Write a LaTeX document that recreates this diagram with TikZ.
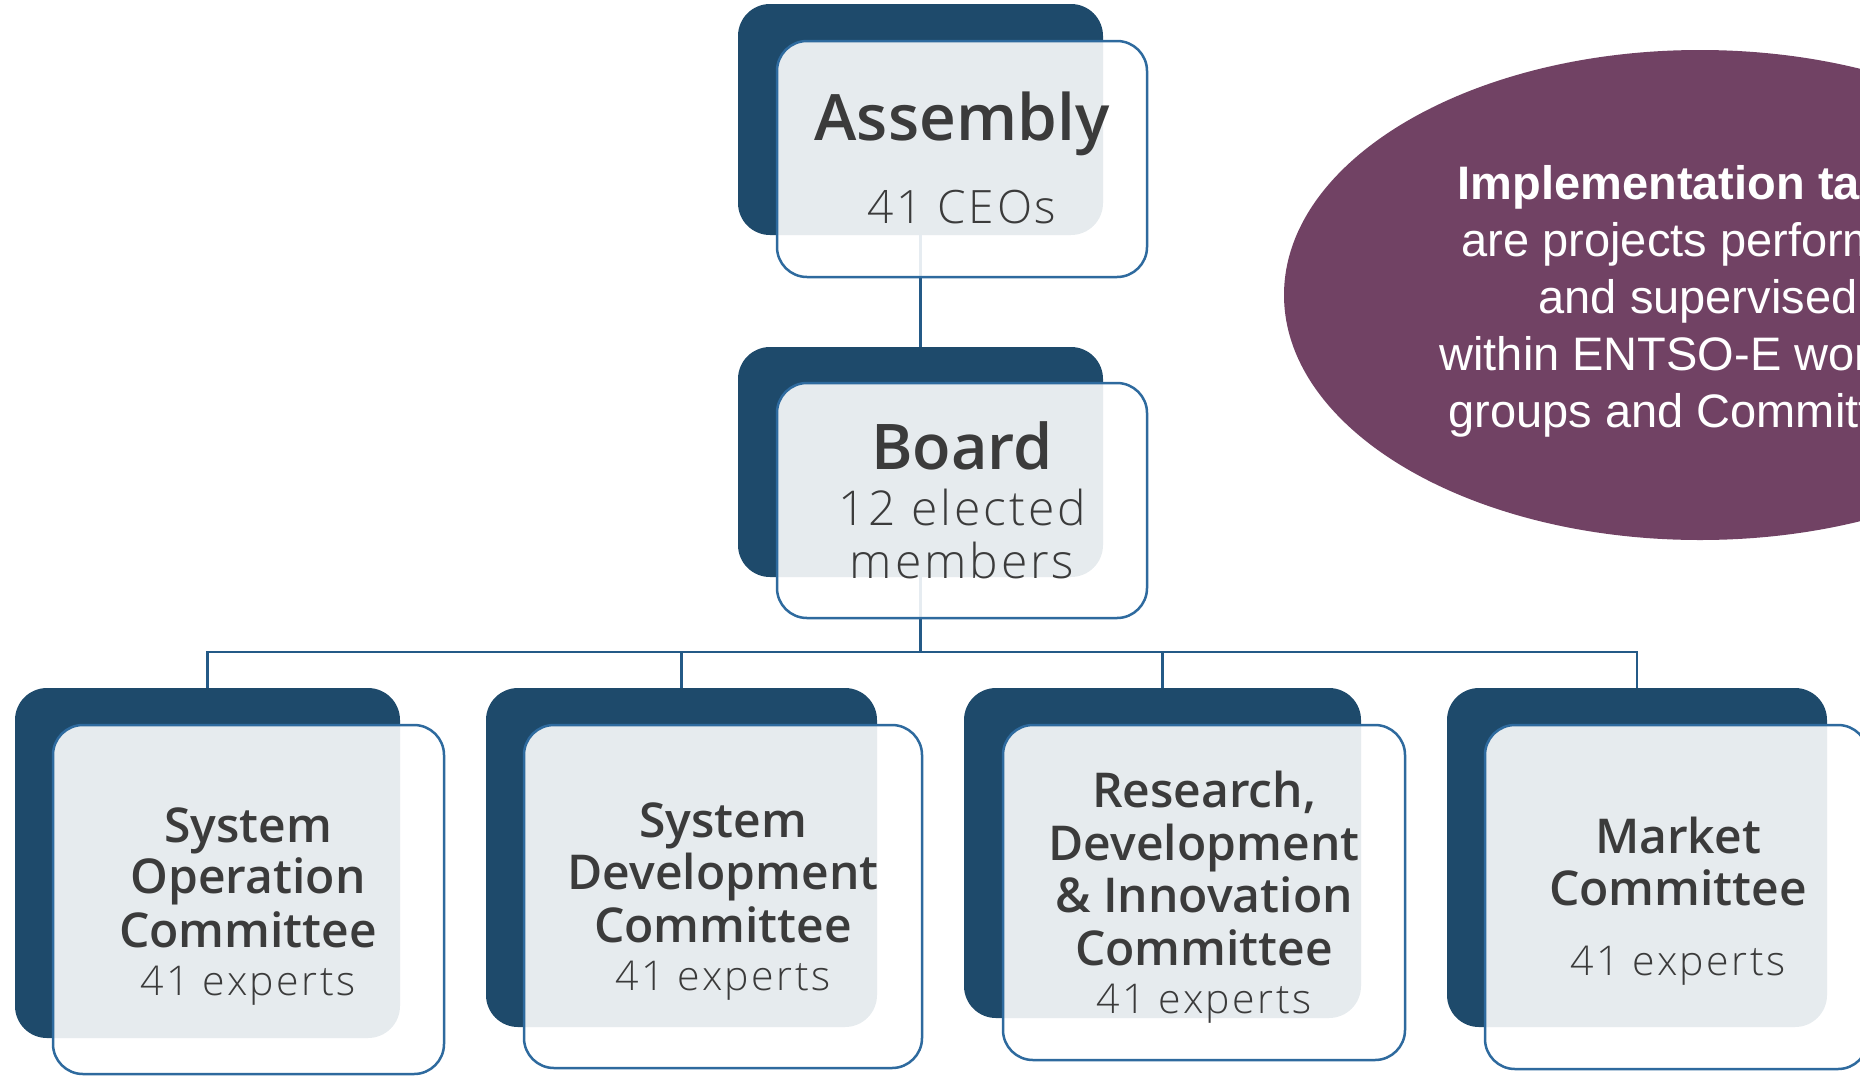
\documentclass[tikz,border=0pt]{standalone}
\usepackage{fontspec}
\usetikzlibrary{shapes.geometric}
\setmainfont{Open Sans}
\IfFontExistsTF{Open Sans Semibold}{\newfontfamily\ttlfont{Open Sans Semibold}}{\newcommand\ttlfont{\bfseries}}
\IfFontExistsTF{Open Sans Light}{\newfontfamily\subfont{Open Sans Light}[LetterSpace=6]}{\newfontfamily\subfont{Open Sans}[LetterSpace=6]}
\newfontfamily\arialf{Liberation Sans}
\definecolor{dkblue}{HTML}{1E4A6B}
\definecolor{frameblue}{HTML}{2E6A9E}
\definecolor{connblue}{HTML}{245A87}
\definecolor{txtgrey}{HTML}{3B3B3B}
\definecolor{plum}{HTML}{714264}
\pgfdeclarelayer{bg}
\pgfsetlayers{bg,main}
\tikzset{
  darkbox/.style={rectangle, rounded corners=32pt, fill=dkblue, inner sep=0pt, outer sep=0pt},
  framebox/.style={rectangle, rounded corners=30pt, draw=frameblue, line width=2.5pt, fill=white, fill opacity=0.89, inner sep=0pt, outer sep=0pt},
  conn/.style={draw=connblue, line width=2.5pt},
  bigttl/.style={anchor=base, inner sep=0pt, text=txtgrey, font={\ttlfont\fontsize{64}{70}\selectfont}},
  ttl/.style={anchor=base, inner sep=0pt, text=txtgrey, font={\ttlfont\fontsize{48}{52}\selectfont}},
  bigsub/.style={anchor=base, inner sep=0pt, text=txtgrey, font={\subfont\fontsize{48}{52}\selectfont}},
  sub/.style={anchor=base, inner sep=0pt, text=txtgrey, font={\subfont\fontsize{41}{44}\selectfont}},
  impl/.style={anchor=base, inner sep=0pt, text=white, font={\arialf\fontsize{47}{54}\selectfont}},
}
\begin{document}
\begin{tikzpicture}[x=1pt, y=-1pt]
\useasboundingbox (0,0) rectangle (1860,1077);
\clip (0,0) rectangle (1860,1077);

% Assembly
\node[darkbox, minimum width=365pt, minimum height=231pt] (asmD) at (920.5,119.5) {};
\node[framebox, minimum width=370pt, minimum height=236pt] (asmF) at (962,159) {};
\node[bigttl] (asmT) at (962,140) {Assembly};
\node[sub, font={\subfont\fontsize{46}{50}\selectfont}] (asmS) at (962,223) {41 CEOs};

% Board
\node[darkbox, minimum width=365pt, minimum height=230pt] (brdD) at (920.5,462) {};
\node[framebox, minimum width=370pt, minimum height=235pt] (brdF) at (962,500.5) {};
\node[bigttl, font={\ttlfont\fontsize{63}{70}\selectfont}] (brdT) at (962,469) {Board};
\node[bigsub] (brdS1) at (962,525) {12 elected};
\node[bigsub] (brdS2) at (962,578) {members};

% Committee 1
\node[darkbox, minimum width=385pt, minimum height=350pt] (c1D) at (207.5,863) {};
\node[framebox, minimum width=391pt, minimum height=349pt] (c1F) at (248.5,899.5) {};
\node[ttl] (c1T1) at (248,842) {System};
\node[ttl] (c1T2) at (248,893) {Operation};
\node[ttl] (c1T3) at (248,947) {Committee};
\node[sub] (c1S) at (248,995) {41 experts};

% Committee 2
\node[darkbox, minimum width=391pt, minimum height=339pt] (c2D) at (681.5,857.5) {};
\node[framebox, minimum width=398pt, minimum height=343pt] (c2F) at (723,896.5) {};
\node[ttl] (c2T1) at (723,837) {System};
\node[ttl] (c2T2) at (723,889) {Development};
\node[ttl] (c2T3) at (723,942) {Committee};
\node[sub] (c2S) at (723,990) {41 experts};

% Committee 3
\node[darkbox, minimum width=397pt, minimum height=330pt] (c3D) at (1162.5,853) {};
\node[framebox, minimum width=402pt, minimum height=335pt] (c3F) at (1204,892.5) {};
\node[ttl] (c3T1) at (1204,807) {Research,};
\node[ttl] (c3T2) at (1204,860) {Development};
\node[ttl] (c3T3) at (1204,912) {\& Innovation};
\node[ttl] (c3T4) at (1204,965) {Committee};
\node[sub] (c3S) at (1204,1013) {41 experts};

% Committee 4
\node[darkbox, minimum width=380pt, minimum height=339pt] (c4D) at (1637,857.5) {};
\node[framebox, minimum width=383pt, minimum height=344pt] (c4F) at (1676.5,897) {};
\node[ttl] (c4T1) at (1678,853) {Market};
\node[ttl] (c4T2) at (1678,905) {Committee};
\node[sub] (c4S) at (1678,975) {41 experts};

% connectors (behind)
\coordinate (bar) at (920.5,652);
\begin{pgfonlayer}{bg}
\draw[conn] (asmD.center) -- (brdD.center);
\draw[conn] (brdD.center) -- (bar);
\draw[conn] (c1D.center) |- (bar) -| (c4D.center);
\draw[conn] (c2D.center) |- (bar);
\draw[conn] (c3D.center) |- (bar);
\end{pgfonlayer}

% Implementation ellipse
\node[ellipse, fill=plum, inner sep=0pt, minimum width=832pt, minimum height=490pt] (implE) at (1700,295) {};
\node[impl, font={\arialf\bfseries\fontsize{47}{54}\selectfont}] (i1) at (1698,199) {Implementation tasks};
\node[impl] (i2) at (1698,256) {are projects performed};
\node[impl] (i3) at (1698,313) {and supervised};
\node[impl] (i4) at (1698,370) {within ENTSO-E working};
\node[impl] (i5) at (1698,427) {groups and Committees};
\end{tikzpicture}
\end{document}
